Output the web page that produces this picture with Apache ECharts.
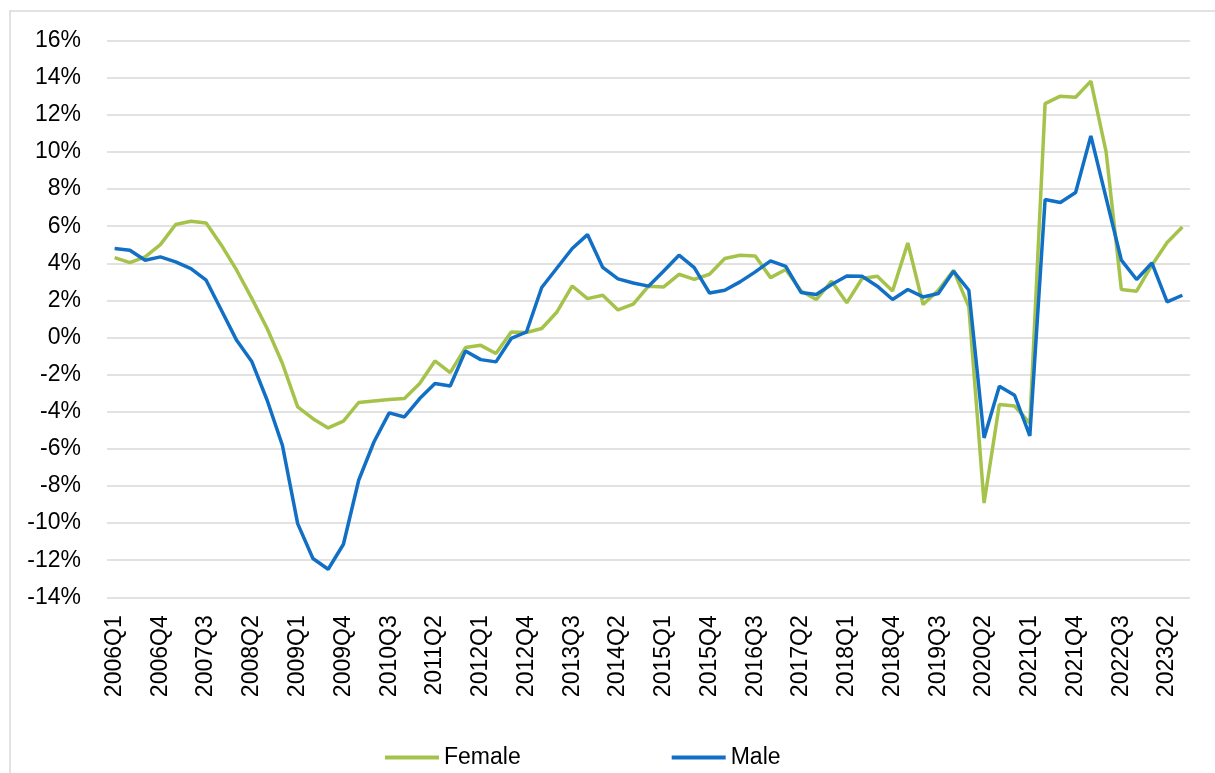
<!DOCTYPE html>
<html>
<head>
<meta charset="utf-8">
<title>Female vs Male</title>
<script src="https://cdn.jsdelivr.net/npm/echarts@6/dist/echarts.min.js"></script>
<style>
  html, body { margin: 0; padding: 0; background: #fff; }
  #chart { width: 1215px; height: 773px; }
</style>
</head>
<body>
<div id="chart"></div>
<script>
// quarters 2006Q1 .. 2023Q3
const quarters = []
for (let y = 2006; y <= 2023; y++) {
  for (let q = 1; q <= 4; q++) {
    if (y === 2023 && q > 3) break
    quarters.push(y + 'Q' + q)
  }
}

// values in %
const female = [
  4.31, 4.04, 4.35, 5.01, 6.09, 6.27, 6.18, 4.98, 3.63, 2.10,
  0.49, -1.40, -3.74, -4.37, -4.87, -4.50, -3.50, -3.42, -3.34, -3.29,
  -2.48, -1.26, -1.89, -0.54, -0.42, -0.86, 0.30, 0.27, 0.49, 1.38,
  2.78, 2.10, 2.28, 1.49, 1.80, 2.77, 2.73, 3.41, 3.14, 3.41,
  4.26, 4.44, 4.40, 3.23, 3.67, 2.51, 2.05, 3.04, 1.87, 3.18,
  3.30, 2.51, 5.10, 1.78, 2.55, 3.63, 1.65, -8.92, -3.61, -3.69,
  -4.62, 12.61, 13.01, 12.95, 13.82, 10.01, 2.59, 2.50, 3.90, 5.12,
  5.96
]

const male = [
  4.80, 4.71, 4.17, 4.35, 4.08, 3.72, 3.09, 1.47, -0.15, -1.31,
  -3.38, -5.81, -10.03, -11.91, -12.49, -11.14, -7.69, -5.63, -4.06, -4.28,
  -3.29, -2.48, -2.61, -0.72, -1.19, -1.31, -0.05, 0.30, 2.70, 3.75,
  4.80, 5.55, 3.78, 3.16, 2.94, 2.77, 3.59, 4.44, 3.77, 2.40,
  2.55, 3.00, 3.54, 4.13, 3.84, 2.43, 2.32, 2.86, 3.32, 3.30,
  2.77, 2.05, 2.59, 2.19, 2.37, 3.57, 2.55, -5.41, -2.63, -3.11,
  -5.30, 7.44, 7.28, 7.82, 10.87, 7.52, 4.17, 3.13, 4.02, 1.92,
  2.28
]

const yMin = -14
const yMax = 16
const yStep = 2

const fontFamily = '"Liberation Sans", Arial, sans-serif'

const chart = echarts.init(document.getElementById('chart'))

chart.setOption({
  animation: false,
  graphic: [{
    type: 'rect',
    shape: { x: 10, y: 11, width: 1215, height: 780 },
    style: { fill: 'none', stroke: '#d9d9d9', lineWidth: 1.5 },
    silent: true
  }],
  legend: {
    left: 380,
    top: 741,
    itemWidth: 54,
    itemHeight: 4,
    itemGap: 151,
    icon: 'rect',
    textStyle: { fontFamily, fontSize: 23, color: '#000' },
    data: ['Female', 'Male']
  },
  grid: {
    left: 107,
    right: 25,
    top: 40.7,
    bottom: 175.7
  },
  xAxis: {
    type: 'category',
    data: quarters,
    boundaryGap: true,
    axisLine: { show: false },
    axisTick: { show: false },
    axisLabel: {
      interval: 2,
      rotate: 90,
      margin: 18,
      fontFamily,
      fontSize: 23,
      color: '#000'
    }
  },
  yAxis: {
    type: 'value',
    min: yMin,
    max: yMax,
    interval: yStep,
    axisLine: { show: false },
    axisTick: { show: false },
    splitLine: { lineStyle: { color: '#d9d9d9', width: 1.5 } },
    axisLabel: {
      formatter: '{value}%',
      margin: 26,
      fontFamily,
      fontSize: 23,
      color: '#000'
    }
  },
  series: [{
    name: 'Female',
    type: 'line',
    data: female,
    symbol: 'none',
    lineStyle: { width: 3.5, color: '#a5c34a' },
    itemStyle: { color: '#a5c34a' }
  }, {
    name: 'Male',
    type: 'line',
    data: male,
    symbol: 'none',
    lineStyle: { width: 3.5, color: '#1170c6' },
    itemStyle: { color: '#1170c6' }
  }]
})
</script>
</body>
</html>
